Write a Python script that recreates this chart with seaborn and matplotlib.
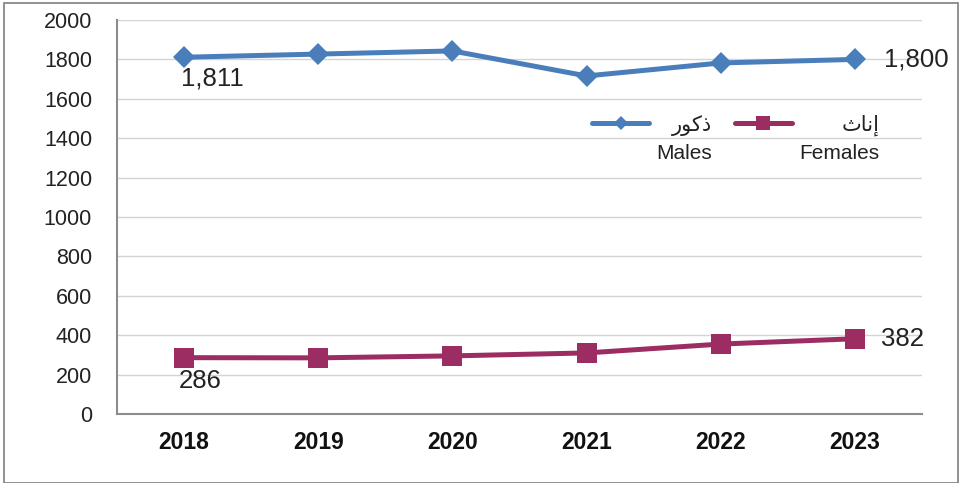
import matplotlib
matplotlib.use("Agg")
import matplotlib.pyplot as plt
import seaborn as sns
import pandas as pd
import numpy as np
from matplotlib.patches import Rectangle
from matplotlib.lines import Line2D
from matplotlib.legend_handler import HandlerLine2D

years = ["2018", "2019", "2020", "2021", "2022", "2023"]
males = [1811, 1827, 1843, 1716, 1782, 1800]
females = [286, 285, 295, 310, 355, 382]
# Arabic labels (presentation forms, visual order) + English
male_label = "\uFEAD\uFEEE\uFEDB\uFEAB\nMales"      # ذكور
female_label = "\uFE99\uFE8E\uFEE7\uFE87\nFemales"  # إناث
yticks = [0, 200, 400, 600, 800, 1000, 1200, 1400, 1600, 1800, 2000]

blue = "#4a7ebb"
plum = "#9b2d62"

df = pd.DataFrame({
    "year": years * 2,
    "value": males + females,
    "sex": ["m"] * len(years) + ["f"] * len(years),
})

sns.set_theme(style="white")
plt.rcParams["font.family"] = ["Liberation Sans", "DejaVu Sans"]

fig = plt.figure(figsize=(9.63, 4.83), dpi=100)
ax = fig.add_axes([117 / 963, 1 - 414 / 483, (922 - 117) / 963, (414 - 20) / 483])

sns.lineplot(data=df, x="year", y="value", hue="sex", style="sex",
             palette={"m": blue, "f": plum},
             markers={"m": "D", "f": "s"}, dashes=False,
             linewidth=3.6, markeredgewidth=0, ax=ax, legend=False,
             sort=False)
for ln in ax.get_lines():
    if ln.get_marker() == "D":
        ln.set_markersize(11.5)
    else:
        ln.set_markersize(15)

ax.set_xlim(-0.5, len(years) - 0.5)
ax.set_ylim(0, 2000)
ax.set_yticks(yticks)
ax.set_yticklabels([str(v) for v in yticks], fontsize=15.5, color="#222222")
ax.set_xticks(range(len(years)))
ax.set_xticklabels(years, fontsize=16.5, fontweight="bold", color="#111111")
ax.tick_params(axis="y", length=0, pad=18)
ax.tick_params(axis="x", length=0, pad=12)
ax.set_xlabel("")
ax.set_ylabel("")
ax.grid(axis="y", color="#d4d4d4", linewidth=1)
ax.set_axisbelow(True)
for s in ["top", "right"]:
    ax.spines[s].set_visible(False)
for s in ["left", "bottom"]:
    ax.spines[s].set_color("#8c8c8c")
    ax.spines[s].set_linewidth(1.5)

# data labels
lab_kw = dict(fontsize=18.5, color="#222222")
ax.annotate(f"{males[0]:,}", (0, males[0]), xytext=(-2, -15), textcoords="offset points",
            ha="left", va="center", **lab_kw)
ax.annotate(f"{males[-1]:,}", (5, males[-1]), xytext=(21, 0), textcoords="offset points",
            ha="left", va="center", **lab_kw)
ax.annotate(f"{females[0]:,}", (0, females[0]), xytext=(-4, -17), textcoords="offset points",
            ha="left", va="center", **lab_kw)
ax.annotate(f"{females[-1]:,}", (5, females[-1]), xytext=(19, 0), textcoords="offset points",
            ha="left", va="center", **lab_kw)


class UpHandler(HandlerLine2D):
    def __init__(self, dy, **kw):
        super().__init__(**kw)
        self.dy = dy

    def create_artists(self, legend, orig_handle, xdescent, ydescent, width, height,
                       fontsize, trans):
        arts = super().create_artists(legend, orig_handle, xdescent, ydescent, width,
                                      height, fontsize, trans)
        for a in arts:
            a.set_ydata(np.asarray(a.get_ydata(), dtype=float) + self.dy)
        return arts


# legend
h_m = Line2D([], [], color=blue, lw=3.6, marker="D", markersize=7, markeredgewidth=0,
             solid_capstyle="round")
h_f = Line2D([], [], color=plum, lw=3.6, marker="s", markersize=10, markeredgewidth=0,
             solid_capstyle="round")
leg = ax.legend([h_m, h_f], [male_label, female_label], ncol=2, frameon=False,
                loc="center left", bbox_to_anchor=((592 - 117) / 805, 1 - (139 - 20) / 394),
                borderpad=0, borderaxespad=0,
                handlelength=2.75, handletextpad=0.33, columnspacing=1.1,
                prop={"family": ["Liberation Sans", "DejaVu Sans"], "size": 15},
                handler_map={h_m: UpHandler(11.5), h_f: UpHandler(11.5)})
for t in leg.get_texts():
    t.set_multialignment("right")
    t.set_linespacing(1.5)
    t.set_color("#222222")

# outer frame
fig.patches.append(Rectangle((4 / 963, 0), 954 / 963, 1 - 3 / 483, transform=fig.transFigure,
                             fill=False, edgecolor="#7f7f7f", linewidth=1.2))

fig.savefig("out.png", dpi=100)
